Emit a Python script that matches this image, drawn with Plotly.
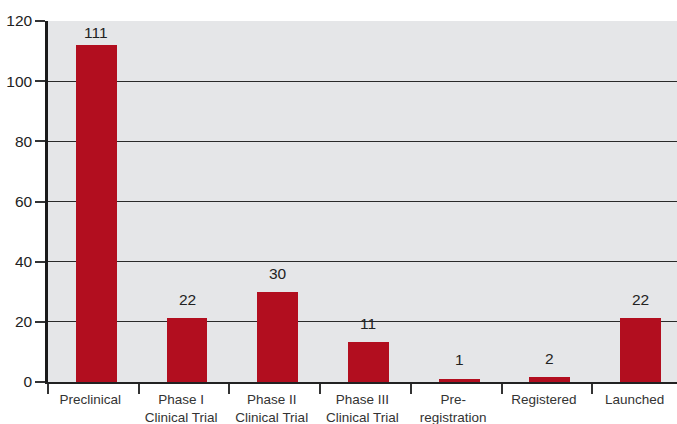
import plotly.graph_objects as go

categories = ["Preclinical", "Phase I<br>Clinical Trial", "Phase II<br>Clinical Trial",
              "Phase III<br>Clinical Trial", "Pre-<br>registration", "Registered", "Launched"]
bar_values = [112, 21.3, 30, 13.3, 1, 1.7, 21.3]
bar_labels = ["111", "22", "30", "11", "1", "2", "22"]
label_shift = [2, 8, 8, 8, 9, 8, 8]
y_ticks = [0, 20, 40, 60, 80, 100, 120]

RED = "#b20e1f"
FONT = "Liberation Sans, Arial, Helvetica, sans-serif"

fig = go.Figure()
fig.add_trace(go.Bar(
    x=categories, y=bar_values, width=0.45, offset=-0.192,
    marker=dict(color=RED, line=dict(width=0)),
    hoverinfo="skip",
))

for c, v, t, s in zip(categories, bar_values, bar_labels, label_shift):
    fig.add_annotation(x=c, y=v, text=t, showarrow=False, xanchor="center",
                       yanchor="bottom", xshift=3, yshift=s,
                       font=dict(family=FONT, size=15.5, color="#222"))

fig.update_layout(
    width=677, height=424,
    margin=dict(l=48, r=0, t=21, b=42),
    paper_bgcolor="white", plot_bgcolor="#e5e6e8",
    showlegend=False, bargap=0,
    font=dict(family=FONT, color="#222"),
)
fig.update_xaxes(
    type="category", range=[-0.5, 6.435],
    tickson="boundaries", ticks="outside", ticklen=10, tickwidth=1.5, tickcolor="#333",
    showline=True, linewidth=2, linecolor="#222", showgrid=False,
    ticklabelstandoff=4, ticklabelshift=-3,
    tickfont=dict(family=FONT, size=13.5, color="#333"),
)
fig.update_yaxes(
    range=[0, 120], tickvals=y_ticks,
    ticks="outside", ticklen=10, tickwidth=1.5, tickcolor="#333",
    showline=True, linewidth=2.5, linecolor="#1a1a1a",
    showgrid=True, gridcolor="#2a2a2a", gridwidth=1, zeroline=False,
    tickfont=dict(family=FONT, size=15.5, color="#222"),
)

fig.write_html("out.html")
